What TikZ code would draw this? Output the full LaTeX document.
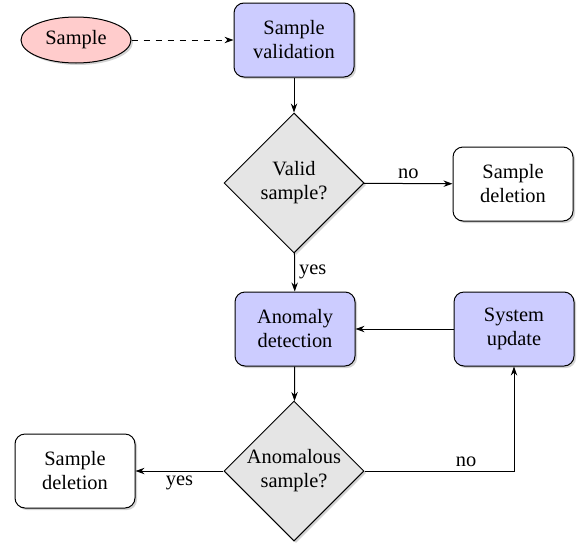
\documentclass[tikz,border=0pt]{standalone}
\usepackage{fontspec}
\setmainfont{Liberation Serif}
\usetikzlibrary{shapes.geometric,shadows,arrows.meta}
\begin{document}
\begin{tikzpicture}[x=0.5pt,y=-0.5pt,
  every node/.style={font=\fontsize{10.2pt}{12pt}\selectfont},
  base/.style={draw, line width=0.5pt, align=center, inner sep=0pt,
    drop shadow={shadow xshift=1pt, shadow yshift=-1pt, opacity=0.35}},
  procbox/.style={base, rounded corners=5pt, minimum width=60pt, minimum height=37pt},
  bluebox/.style={procbox, fill=blue!20},
  whitebox/.style={procbox, fill=white},
  decision/.style={base, diamond, fill=gray!20, minimum width=70pt, minimum height=70pt, aspect=1},
  startnode/.style={base, ellipse, fill=red!20, minimum width=55pt, minimum height=23pt},
  conn/.style={draw, line width=0.5pt, -{Stealth[length=4.5pt,width=3.2pt]}},
  lbl/.style={font=\fontsize{10.2pt}{12pt}\selectfont, inner sep=2pt}
]
\useasboundingbox (0,0) rectangle (582,546);
\node[startnode] (sample) at (76,40) {Sample};
\node[bluebox] (valid) at (294,40) {Sample\\validation};
\node[decision] (isvalid) at (294,183) {Valid\\sample?};
\node[whitebox] (del1) at (513,184) {Sample\\deletion};
\node[bluebox] (anom) at (295,329) {Anomaly\\detection};
\node[bluebox] (upd) at (514,329) {System\\update};
\node[decision] (isanom) at (294,471) {Anomalous\\sample?};
\node[whitebox] (del2) at (75,471) {Sample\\deletion};

\draw[conn, dashed] (sample) -- (valid);
\draw[conn] (valid) -- (isvalid);
\draw[conn] (isvalid) -- node[lbl, above] {no} (del1);
\draw[conn] (isvalid) -- node[lbl, right] {yes} (anom);
\draw[conn] (anom) -- (isanom);
\draw[conn] (upd) -- (anom);
\draw[conn] (isanom.east) -| node[lbl, above, pos=0.34] {no} (upd);
\draw[conn] (isanom) -- node[lbl, below] {yes} (del2);
\end{tikzpicture}
\end{document}
